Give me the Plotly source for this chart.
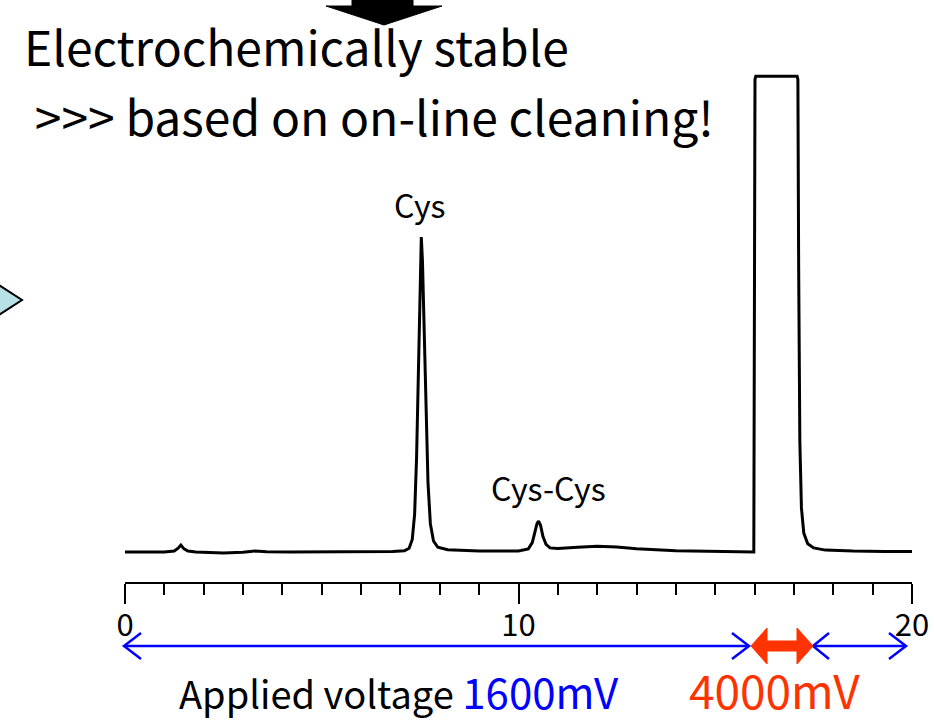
import plotly.graph_objects as go

# ---------------- data ----------------
time_min = [0.0, 0.5, 1.0, 1.25, 1.35, 1.42, 1.5, 1.6, 1.8, 2.5, 3.0, 3.3, 3.6, 4.2, 5.0, 6.0, 6.8,
            7.1, 7.22, 7.3, 7.36, 7.41, 7.46, 7.5, 7.53, 7.56, 7.6, 7.65, 7.7, 7.76, 7.84, 7.95, 8.2,
            9.0, 10.0, 10.25, 10.35, 10.42, 10.47, 10.51, 10.56, 10.62, 10.7, 10.8, 11.0, 11.5, 12.0,
            12.5, 13.0, 14.0, 15.0, 15.98, 16.01, 16.03, 17.08, 17.1, 17.12, 17.15, 17.19, 17.25, 17.35,
            17.5, 17.8, 18.5, 19.3, 20.0]
signal = [0.0, 0.0, 0.0, 0.3, 1.2, 2.2, 1.0, 0.3, 0.0, -0.3, -0.1, 0.3, 0.1, 0.0, 0.0, 0.0, 0.2,
          0.4, 1.2, 4.0, 12.0, 30.0, 62.0, 88.0, 100.0, 92.0, 72.0, 44.0, 22.0, 9.0, 3.5, 1.5, 0.7,
          0.3, 0.3, 1.0, 3.0, 6.5, 9.0, 9.8, 8.5, 5.0, 2.4, 1.3, 1.1, 1.5, 1.8,
          1.6, 1.0, 0.4, 0.1, 0.0, 150.0, 151.0, 151.0, 150.0, 90.0, 35.0, 14.0, 6.0, 2.6,
          1.3, 0.6, 0.3, 0.2, 0.2]

tick_vals = [0, 10, 20]
tick_text = ["0", "10", "20"]

peak_names = ["Cys", "Cys-Cys"]
peak_label_time = [7.5, 10.77]
peak_label_signal = [110.5, 20.5]

title_lines = ["Electrochemically stable", "\u00a0>>> based on on-line cleaning!"]
voltage_prefix = "Applied voltage "
voltage_labels = ["1600mV", "4000mV"]

# ---------------- layout helpers ----------------
W, H = 934, 721
ML, MR, MT, MB = 125, 22, 70, 139
PW, PH = W - ML - MR, H - MT - MB
FONT = "Noto Sans CJK JP"
BLUE = "#0000ff"
RED = "#ff3300"


def px(x):
    return (x - ML) / PW


def py(y):
    return (H - MB - y) / PH


def path(points, close=False):
    s = "M " + " L ".join(f"{px(a):.5f},{py(b):.5f}" for a, b in points)
    return s + (" Z" if close else "")


fig = go.Figure()
fig.add_trace(go.Scatter(x=time_min, y=signal, mode="lines",
                         line=dict(color="black", width=3), hoverinfo="skip",
                         showlegend=False))

shapes = []
# black block arrow at top
shapes.append(dict(type="path", xref="paper", yref="paper",
                   path=path([(352, -5), (413, -5), (413, 6), (442, 6), (384, 25), (326, 6), (352, 6)], True),
                   fillcolor="black", line=dict(color="black", width=1)))
# light blue diamond at left edge
shapes.append(dict(type="path", xref="paper", yref="paper",
                   path=path([(-40, 260), (22, 300), (-40, 340)], True),
                   fillcolor="#b8e1e6", line=dict(color="black", width=2)))
# blue arrow 1
shapes.append(dict(type="path", xref="paper", yref="paper",
                   path=path([(124, 646), (749, 646)]), line=dict(color=BLUE, width=2.5)))
shapes.append(dict(type="path", xref="paper", yref="paper",
                   path=path([(141, 633), (124, 646), (141, 659)]), line=dict(color=BLUE, width=2.5)))
shapes.append(dict(type="path", xref="paper", yref="paper",
                   path=path([(732, 633), (749, 646), (732, 659)]), line=dict(color=BLUE, width=2.5)))
# blue arrow 2
shapes.append(dict(type="path", xref="paper", yref="paper",
                   path=path([(813, 646), (906, 646)]), line=dict(color=BLUE, width=2.5)))
shapes.append(dict(type="path", xref="paper", yref="paper",
                   path=path([(829, 633), (813, 646), (829, 659)]), line=dict(color=BLUE, width=2.5)))
shapes.append(dict(type="path", xref="paper", yref="paper",
                   path=path([(889, 633), (906, 646), (889, 659)]), line=dict(color=BLUE, width=2.5)))
# red double arrow
shapes.append(dict(type="path", xref="paper", yref="paper",
                   path=path([(751, 646), (767, 628), (767, 641), (797, 641), (797, 628), (813, 646),
                              (797, 664), (797, 651), (767, 651), (767, 664)], True),
                   fillcolor=RED, line=dict(color=RED, width=1)))

annotations = []
for line, ypix in zip(title_lines, [45, 115]):
    annotations.append(dict(xref="paper", yref="paper", x=px(22), y=py(ypix), xanchor="left",
                            yanchor="middle", text=line, showarrow=False, align="left",
                            font=dict(family=FONT, size=48, color="black")))
for name, t, s in zip(peak_names, peak_label_time, peak_label_signal):
    annotations.append(dict(xref="x", yref="y", x=t, y=s, text=name, showarrow=False,
                            xanchor="center", yanchor="middle",
                            font=dict(family=FONT, size=32, color="black")))
annotations.append(dict(xref="paper", yref="paper", x=px(177), y=py(690), xanchor="left", yanchor="middle",
                        text=voltage_prefix
                        + f"<span style='color:{BLUE};font-size:42px'>{voltage_labels[0]}</span>",
                        showarrow=False, font=dict(family=FONT, size=38, color="black")))
annotations.append(dict(xref="paper", yref="paper", x=px(687), y=py(689), xanchor="left", yanchor="middle",
                        text=voltage_labels[1], showarrow=False,
                        font=dict(family=FONT, size=46, color=RED)))

fig.update_layout(
    width=W, height=H, autosize=False,
    margin=dict(l=ML, r=MR, t=MT, b=MB, pad=0, autoexpand=False),
    paper_bgcolor="white", plot_bgcolor="white",
    shapes=shapes, annotations=annotations,
    xaxis=dict(range=[0, 20], showline=True, linecolor="black", linewidth=2, automargin=False,
               ticks="outside", tickvals=tick_vals, ticktext=tick_text, ticklen=20,
               tickwidth=2, tickcolor="black", showgrid=False, zeroline=False,
               ticklabelstandoff=-5,
               tickfont=dict(family=FONT, size=31, color="black"),
               minor=dict(dtick=1, tick0=0, ticks="outside", ticklen=11, tickwidth=2,
                          tickcolor="black", showgrid=False)),
    yaxis=dict(range=[-9.52, 153.0], visible=False, showgrid=False, zeroline=False, automargin=False),
)

fig.write_html("out.html", config={"displayModeBar": False, "responsive": False},
               post_script="document.body.style.margin='0';document.body.style.overflow='hidden';")
